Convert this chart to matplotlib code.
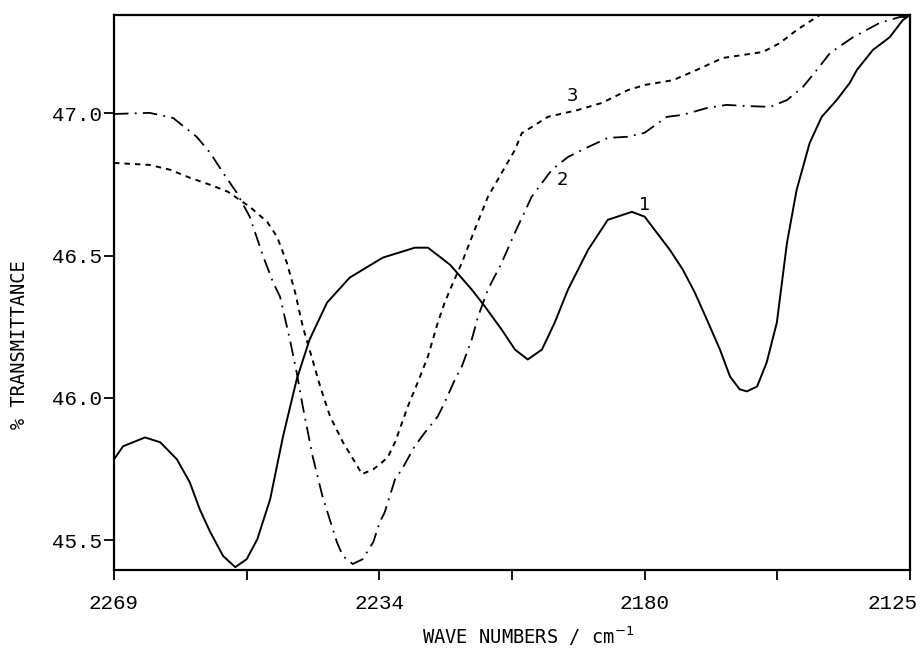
import numpy as np
import matplotlib
matplotlib.use("Agg")
import matplotlib.pyplot as plt
from matplotlib.ticker import FixedLocator, NullFormatter
from matplotlib.transforms import ScaledTranslation


# axis label positions (non-linear wave-number axis, evenly spaced on paper)
TICK_WN = [2269, 2234, 2180, 2125]
TICK_POS = [6, 4, 2, 0]
MINOR_WN = [2251.5, 2207, 2152.5]
Y_TICKS = [45.5, 46.0, 46.5, 47.0]

# curve 1 (solid)
wn_1 = [2269.0, 2267.8, 2264.9, 2262.9, 2260.7, 2259.0, 2257.7, 2256.3, 2254.6,
        2253.0, 2251.5, 2250.1, 2248.4, 2246.7, 2244.9, 2243.2, 2240.9, 2237.9,
        2233.3, 2226.8, 2224.1, 2219.6, 2215.2, 2212.5, 2209.1, 2206.4, 2203.8,
        2200.9, 2198.3, 2195.6, 2191.5, 2187.5, 2182.6, 2180.0, 2177.5, 2174.8,
        2172.1, 2169.6, 2167.1, 2164.4, 2162.3, 2160.3, 2158.8, 2156.7, 2154.7,
        2152.6, 2150.5, 2148.5, 2145.8, 2143.3, 2140.2, 2137.5, 2136.0, 2132.7,
        2129.2, 2126.5, 2125.0]
t_1 = [45.784, 45.830, 45.861, 45.844, 45.784, 45.703, 45.609, 45.528, 45.444,
       45.405, 45.433, 45.503, 45.644, 45.865, 46.065, 46.205, 46.335, 46.423,
       46.493, 46.528, 46.528, 46.468, 46.381, 46.321, 46.240, 46.170, 46.135,
       46.170, 46.265, 46.381, 46.521, 46.626, 46.654, 46.637, 46.581, 46.521,
       46.451, 46.370, 46.275, 46.170, 46.075, 46.030, 46.023, 46.040, 46.125,
       46.265, 46.545, 46.731, 46.896, 46.988, 47.047, 47.107, 47.153, 47.223,
       47.268, 47.328, 47.346]

# curve 2 (dash-dot)
wn_2 = [2269.0, 2264.3, 2261.2, 2258.1, 2256.3, 2254.6, 2252.8, 2251.1, 2249.3,
        2248.0, 2247.1, 2245.8, 2244.9, 2244.1, 2242.8, 2241.5, 2239.6, 2238.8,
        2237.5, 2236.2, 2234.8, 2233.9, 2232.9, 2230.8, 2229.4, 2226.8, 2224.7,
        2222.1, 2220.7, 2218.6, 2217.2, 2215.2, 2213.9, 2211.9, 2209.1, 2206.4,
        2203.0, 2198.9, 2195.6, 2191.5, 2187.5, 2183.4, 2180.0, 2178.3, 2175.4,
        2172.1, 2167.1, 2163.0, 2158.8, 2154.0, 2150.5, 2147.2, 2144.3, 2141.6,
        2136.8, 2131.3, 2127.1, 2125.6]
t_2 = [46.998, 47.002, 46.984, 46.918, 46.861, 46.791, 46.721, 46.637, 46.496,
       46.405, 46.356, 46.205, 46.089, 45.970, 45.795, 45.654, 45.493, 45.444,
       45.416, 45.433, 45.493, 45.563, 45.598, 45.714, 45.749, 45.830, 45.879,
       45.935, 45.984, 46.065, 46.111, 46.205, 46.286, 46.381, 46.475, 46.581,
       46.707, 46.802, 46.847, 46.882, 46.914, 46.918, 46.932, 46.953, 46.988,
       46.995, 47.019, 47.030, 47.026, 47.023, 47.047, 47.093, 47.153, 47.212,
       47.268, 47.318, 47.339, 47.339]

# curve 3 (dotted)
wn_3 = [2269.0, 2264.3, 2261.6, 2259.0, 2256.3, 2254.0, 2251.1, 2248.8, 2247.5,
        2246.2, 2245.1, 2244.1, 2243.1, 2241.8, 2240.5, 2238.8, 2236.9, 2236.3,
        2234.8, 2233.9, 2232.3, 2230.8, 2228.2, 2226.2, 2224.1, 2222.1, 2220.7,
        2219.6, 2217.2, 2214.6, 2211.9, 2208.4, 2206.4, 2205.0, 2202.9, 2199.7,
        2193.6, 2188.7, 2183.4, 2180.0, 2174.1, 2169.2, 2163.8, 2155.5, 2152.0,
        2148.5, 2143.7]
t_3 = [46.826, 46.819, 46.802, 46.774, 46.749, 46.725, 46.672, 46.619, 46.567,
       46.475, 46.370, 46.251, 46.160, 46.040, 45.935, 45.844, 45.760, 45.732,
       45.749, 45.767, 45.791, 45.844, 45.970, 46.054, 46.146, 46.265, 46.335,
       46.381, 46.475, 46.591, 46.707, 46.812, 46.872, 46.931, 46.953, 46.988,
       47.012, 47.037, 47.082, 47.100, 47.117, 47.153, 47.195, 47.216, 47.247,
       47.293, 47.346]

# curve number labels
LABELS = ["1", "2", "3"]
LABEL_WN = [2180.0, 2196.8, 2194.6]
LABEL_T = [46.679, 46.767, 47.061]


def forward(w):
    # increasing wave number -> increasing paper position
    w = np.asarray(w, dtype=float)
    return np.interp(w, TICK_WN[::-1], TICK_POS[::-1])


def inverse(p):
    p = np.asarray(p, dtype=float)
    return np.interp(p, TICK_POS[::-1], TICK_WN[::-1])


fig = plt.figure(figsize=(9.22, 6.49), dpi=100)
ax = fig.add_axes([114 / 922, 1 - 570 / 649, 796 / 922, 555 / 649])

ax.set_xscale("function", functions=(forward, inverse))

ax.plot(wn_1, t_1, color="black", lw=1.4, solid_capstyle="round")
ax.plot(wn_2, t_2, color="black", lw=1.3, dashes=(8, 3.5, 1, 3.5))
ax.plot(wn_3, t_3, color="black", lw=1.4, dashes=(2.8, 2.6))

for text, w, t in zip(LABELS, LABEL_WN, LABEL_T):
    ax.text(w, t, text, fontsize=13, family="DejaVu Sans",
            ha="center", va="center")

ax.set_xlim(2269, 2125)
ax.set_ylim(45.395, 47.346)

ax.xaxis.set_major_locator(FixedLocator(TICK_WN))
ax.xaxis.set_minor_locator(FixedLocator(MINOR_WN))
ax.xaxis.set_minor_formatter(NullFormatter())
ax.set_xticklabels([str(v) for v in TICK_WN])
ax.set_yticks(Y_TICKS)
ax.set_yticklabels([f"{v:.1f}" for v in Y_TICKS])

ax.tick_params(axis="x", which="both", direction="out", length=7, width=1.3,
               pad=10, labelsize=15)
ax.tick_params(axis="y", direction="out", length=7, width=1.3, pad=2,
               labelsize=15)
for lab in ax.get_xticklabels() + ax.get_yticklabels():
    lab.set_family("Liberation Mono")

# last x label sits just inside the right edge, as in the original
last = ax.get_xticklabels()[-1]
last.set_horizontalalignment("right")
last.set_transform(last.get_transform()
                   + ScaledTranslation(7 / 100, 0, fig.dpi_scale_trans))

for spine in ax.spines.values():
    spine.set_linewidth(1.6)

ax.set_xlabel("WAVE NUMBERS / cm$^{-1}$", family="DejaVu Sans Mono",
              fontsize=13.5)
ax.xaxis.set_label_coords((528 - 114) / 796, -(624 - 570) / 555)
ax.set_ylabel("% TRANSMITTANCE", family="DejaVu Sans Mono", fontsize=13.5)
ax.yaxis.set_label_coords(-(114 - 29) / 796, (570 - 345) / 555)

fig.savefig("out.png", dpi=100)
